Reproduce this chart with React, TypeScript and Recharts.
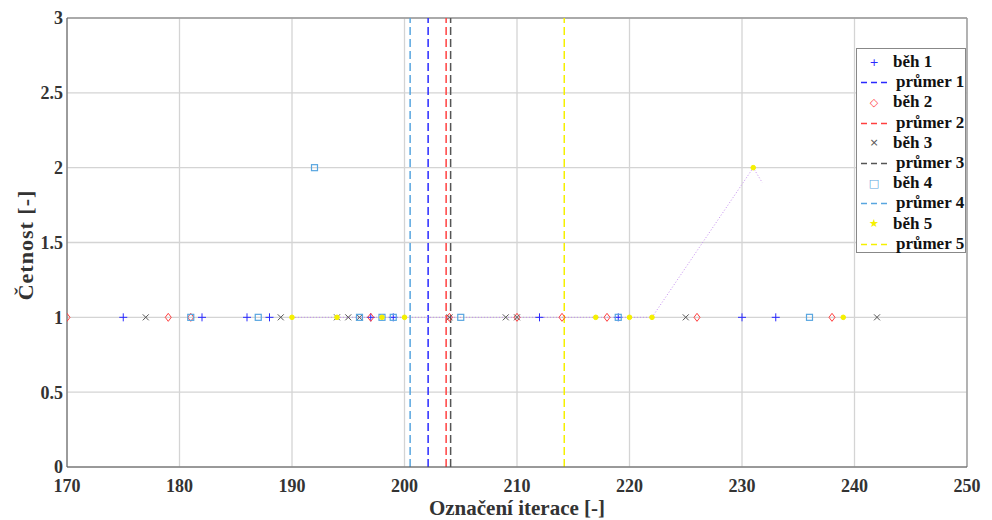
import { ScatterChart, Scatter, XAxis, YAxis, CartesianGrid, ReferenceLine } from 'recharts';

// iterace, kde se objevila shoda (četnost 1, pokud není uvedeno jinak)
const run1X = [175, 182, 186, 188, 197, 199, 212, 219, 230, 233];
const run1Y = [1, 1, 1, 1, 1, 1, 1, 1, 1, 1];
const run2X = [170, 179, 181, 197, 204, 210, 214, 218, 226, 238];
const run2Y = [1, 1, 1, 1, 1, 1, 1, 1, 1, 1];
const run3X = [177, 189, 194, 195, 196, 204, 209, 210, 225, 242];
const run3Y = [1, 1, 1, 1, 1, 1, 1, 1, 1, 1];
const run4X = [181, 187, 192, 196, 198, 199, 205, 219, 236];
const run4Y = [1, 1, 2, 1, 1, 1, 1, 1, 1];
const run5X = [190, 194, 198, 200, 217, 220, 222, 231, 239];
const run5Y = [1, 1, 1, 1, 1, 1, 1, 2, 1];

const means = [202.1, 203.7, 204.1, 200.5, 214.2];

// tenká tečkovaná stopa (nedokreslená spojnice běhu 5)
const trailX = [190, 222, 231, 231.8];
const trailY = [1, 1, 2, 1.9];

const xTicks = [170, 180, 190, 200, 210, 220, 230, 240, 250];
const yTicks = [0, 0.5, 1, 1.5, 2, 2.5, 3];

const toPoints = (xs: number[], ys: number[]) => xs.map((x, i) => ({ x, y: ys[i] }));

const colors = {
  blue: '#2a2aff',
  red: '#ff4040',
  grey: '#555555',
  light: '#58a6e0',
  yellow: '#f5f000',
};

const Plus = (p: any) => (
  <g stroke={colors.blue} strokeWidth={1}>
    <line x1={p.cx - 4} y1={p.cy} x2={p.cx + 4} y2={p.cy} />
    <line x1={p.cx} y1={p.cy - 4} x2={p.cx} y2={p.cy + 4} />
  </g>
);
const Diamond = (p: any) => (
  <path
    d={`M${p.cx},${p.cy - 4} L${p.cx + 3},${p.cy} L${p.cx},${p.cy + 4} L${p.cx - 3},${p.cy} Z`}
    fill="none"
    stroke={colors.red}
    strokeWidth={1}
  />
);
const Cross = (p: any) => (
  <g stroke={colors.grey} strokeWidth={1}>
    <line x1={p.cx - 3} y1={p.cy - 3} x2={p.cx + 3} y2={p.cy + 3} />
    <line x1={p.cx - 3} y1={p.cy + 3} x2={p.cx + 3} y2={p.cy - 3} />
  </g>
);
const Square = (p: any) => (
  <rect x={p.cx - 3} y={p.cy - 3} width={6} height={6} fill="none" stroke={colors.light} strokeWidth={1.2} />
);
const Star = (p: any) => <circle cx={p.cx} cy={p.cy} r={2.3} fill={colors.yellow} stroke={colors.yellow} />;
const NoDot = () => <g />;

const legendRows = [
  { label: 'běh 1', kind: 'mark', mark: '+', color: colors.blue },
  { label: 'průmer 1', kind: 'line', color: colors.blue },
  { label: 'běh 2', kind: 'mark', mark: '◇', color: colors.red },
  { label: 'průmer 2', kind: 'line', color: colors.red },
  { label: 'běh 3', kind: 'mark', mark: '×', color: colors.grey },
  { label: 'průmer 3', kind: 'line', color: colors.grey },
  { label: 'běh 4', kind: 'mark', mark: '□', color: colors.light },
  { label: 'průmer 4', kind: 'line', color: colors.light },
  { label: 'běh 5', kind: 'mark', mark: '★', color: colors.yellow },
  { label: 'průmer 5', kind: 'line', color: colors.yellow },
];

const font = '"Liberation Serif", "Times New Roman", serif';
const tickStyle = { fontFamily: font, fontWeight: 700, fontSize: 18, fill: '#333' };

export default function App() {
  const meanColors = [colors.blue, colors.red, colors.grey, colors.light, colors.yellow];
  return (
    <div style={{ position: 'absolute', left: 0, top: 0, width: 992, height: 520, background: '#fff', fontFamily: font }}>
      <ScatterChart width={992} height={520} margin={{ top: 18, right: 25, left: 0, bottom: 0 }}>
        <CartesianGrid stroke="#d4d4d4" strokeWidth={1.3} />
        <XAxis
          type="number"
          dataKey="x"
          domain={[170, 250]}
          ticks={xTicks}
          allowDataOverflow
          height={53}
          tickLine={false}
          tickMargin={6}
          stroke="#555"
          tick={tickStyle}
          label={{
            value: 'Označení iterace [-]',
            position: 'insideBottom',
            offset: 5,
            style: { fontFamily: font, fontWeight: 700, fontSize: 21, fill: '#333' },
          }}
        />
        <YAxis
          type="number"
          dataKey="y"
          domain={[0, 3]}
          ticks={yTicks}
          allowDataOverflow
          width={67}
          tickLine={false}
          tickMargin={-2}
          stroke="#555"
          tick={tickStyle}
        />
        <ReferenceLine y={3} stroke="#999" strokeWidth={1.3} />
        <ReferenceLine x={250} stroke="#999" strokeWidth={1.3} />
        <Scatter
          data={toPoints(trailX, trailY)}
          line={{ stroke: '#c58ef0', strokeWidth: 1, strokeDasharray: '1 2' }}
          shape={NoDot}
          isAnimationActive={false}
        />
        {means.map((m, i) => (
          <ReferenceLine key={i} x={m} stroke={meanColors[i]} strokeWidth={1.5} strokeDasharray="8 4" />
        ))}
        <Scatter data={toPoints(run1X, run1Y)} shape={Plus} isAnimationActive={false} />
        <Scatter data={toPoints(run2X, run2Y)} shape={Diamond} isAnimationActive={false} />
        <Scatter data={toPoints(run3X, run3Y)} shape={Cross} isAnimationActive={false} />
        <Scatter data={toPoints(run4X, run4Y)} shape={Square} isAnimationActive={false} />
        <Scatter data={toPoints(run5X, run5Y)} shape={Star} isAnimationActive={false} />
      </ScatterChart>

      <div
        style={{
          position: 'absolute',
          left: 26,
          top: 245,
          transform: 'translate(-50%, -50%) rotate(-90deg)',
          whiteSpace: 'nowrap',
          fontWeight: 700,
          fontSize: 22,
          color: '#333',
          letterSpacing: 1,
        }}
      >
        Četnost [-]
      </div>

      <div
        style={{
          position: 'absolute',
          left: 856,
          top: 48,
          width: 110,
          height: 205,
          border: '1px solid #888',
          background: '#fff',
          boxSizing: 'border-box',
          paddingTop: 3,
        }}
      >
        {legendRows.map((r, i) => (
          <div key={i} style={{ height: 20.2, display: 'flex', alignItems: 'center', position: 'relative' }}>
            {r.kind === 'mark' ? (
              <span style={{ position: 'absolute', left: 10, width: 14, textAlign: 'center', color: r.color, fontSize: 11, fontFamily: '"DejaVu Sans", sans-serif' }}>
                {r.mark}
              </span>
            ) : (
              <svg style={{ position: 'absolute', left: 4, top: 9 }} width={28} height={3}>
                <line x1={0} y1={1.5} x2={28} y2={1.5} stroke={r.color} strokeWidth={1.5} strokeDasharray="6 4" />
              </svg>
            )}
            <span style={{ position: 'absolute', left: r.kind === 'mark' ? 36 : 39, fontWeight: 700, fontSize: 17, color: '#111', whiteSpace: 'nowrap' }}>
              {r.label}
            </span>
          </div>
        ))}
      </div>
    </div>
  );
}
